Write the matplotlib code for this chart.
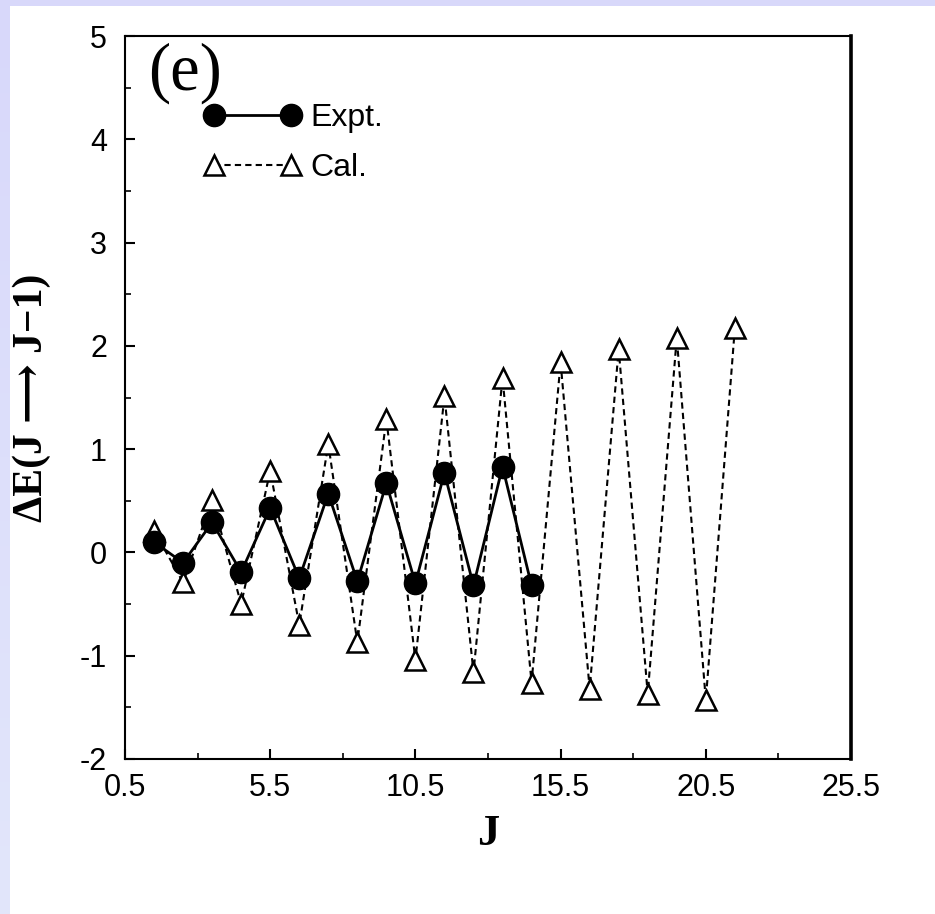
import numpy as np
import matplotlib
matplotlib.use("Agg")
import matplotlib.pyplot as plt
from matplotlib.ticker import MultipleLocator, FixedLocator

plt.rcParams["axes.unicode_minus"] = False

# Signature splitting Delta E(J -> J-1) versus spin J
j_expt = [1.5, 2.5, 3.5, 4.5, 5.5, 6.5, 7.5, 8.5, 9.5, 10.5, 11.5, 12.5, 13.5, 14.5]
de_expt = [0.10, -0.10, 0.29, -0.19, 0.43, -0.25, 0.57, -0.28, 0.67, -0.30,
           0.77, -0.32, 0.83, -0.32]

j_cal = [1.5, 2.5, 3.5, 4.5, 5.5, 6.5, 7.5, 8.5, 9.5, 10.5, 11.5, 12.5, 13.5,
         14.5, 15.5, 16.5, 17.5, 18.5, 19.5, 20.5, 21.5]
de_cal = [0.21, -0.29, 0.51, -0.50, 0.79, -0.70, 1.05, -0.87, 1.29, -1.04,
          1.51, -1.16, 1.69, -1.26, 1.84, -1.32, 1.97, -1.37, 2.08, -1.43, 2.17]

x_ticks = [0.5, 5.5, 10.5, 15.5, 20.5, 25.5]
x_tick_labels = ["0.5", "5.5", "10.5", "15.5", "20.5", "25.5"]
y_ticks = [-2, -1, 0, 1, 2, 3, 4, 5]

W, H = 935, 914
fig = plt.figure(figsize=(W / 100, H / 100), dpi=100, facecolor="white")

# lavender slide border: top strip and left strip with a soft gradient
top = fig.add_axes([0, 1 - 6 / H, 1, 6 / H])
top.axis("off")
top.imshow(np.array([[[216, 216, 250]]], dtype=np.uint8), aspect="auto",
           extent=[0, 1, 0, 1])
left = fig.add_axes([0, 0, 10 / W, 1])
left.axis("off")
grad = np.linspace(0, 1, 256)[:, None]
c0 = np.array([216, 216, 250]) / 255
c1 = np.array([226, 230, 250]) / 255
left.imshow((c0 + (c1 - c0) * grad[:, :, None]).reshape(256, 1, 3),
            aspect="auto", extent=[0, 1, 0, 1])

ax = fig.add_axes([125 / W, 1 - 759 / H, (851 - 125) / W, (759 - 36) / H])

cal_line, = ax.plot(j_cal, de_cal, linestyle=(0, (3, 2)), color="black",
                    linewidth=1.5, marker="^", markersize=14.5,
                    markerfacecolor="white", markeredgecolor="black",
                    markeredgewidth=1.8, zorder=2)
expt_line, = ax.plot(j_expt, de_expt, linestyle="-", color="black",
                     linewidth=2.0, marker="o", markersize=16,
                     markerfacecolor="black", markeredgecolor="black",
                     zorder=3)

ax.set_xlim(0.5, 25.5)
ax.set_ylim(-2, 5)
ax.xaxis.set_major_locator(FixedLocator(x_ticks))
ax.set_xticklabels(x_tick_labels)
ax.xaxis.set_minor_locator(FixedLocator([3.0, 8.0, 13.0, 18.0, 23.0]))
ax.yaxis.set_major_locator(FixedLocator(y_ticks))
ax.yaxis.set_minor_locator(MultipleLocator(0.5))

for lab in ax.get_xticklabels() + ax.get_yticklabels():
    lab.set_fontfamily("Liberation Sans")
    lab.set_fontsize(22)

ax.tick_params(which="major", direction="in", length=7, width=1.5,
               top=False, right=False)
ax.tick_params(which="minor", direction="in", length=4.5, width=1.2,
               top=False, right=False)
ax.tick_params(axis="x", which="major", pad=10)
ax.tick_params(axis="y", which="major", pad=13)

for side in ["left", "bottom", "top"]:
    ax.spines[side].set_linewidth(1.5)
ax.spines["right"].set_linewidth(2.6)

ax.set_xlabel("J", family="Liberation Serif", fontweight="bold", fontsize=32,
              labelpad=8)
ax.set_ylabel("ΔE(J ⟶ J−1)",
              family=["Liberation Serif", "DejaVu Serif", "DejaVu Sans"],
              fontweight="bold", fontsize=30, labelpad=21)

ax.text(1.3, 4.64, "(e)", family="Liberation Serif", fontsize=48,
        ha="left", va="center")

leg = ax.legend([expt_line, cal_line], ["Expt.", "Cal."], loc="center left",
                bbox_to_anchor=(0.110, 0.852), frameon=False, numpoints=2,
                handlelength=3.0, handletextpad=0.3, labelspacing=0.62,
                borderpad=0, borderaxespad=0,
                prop={"family": "Liberation Sans", "size": 23})

fig.savefig("out.png", dpi=100, facecolor=fig.get_facecolor())
